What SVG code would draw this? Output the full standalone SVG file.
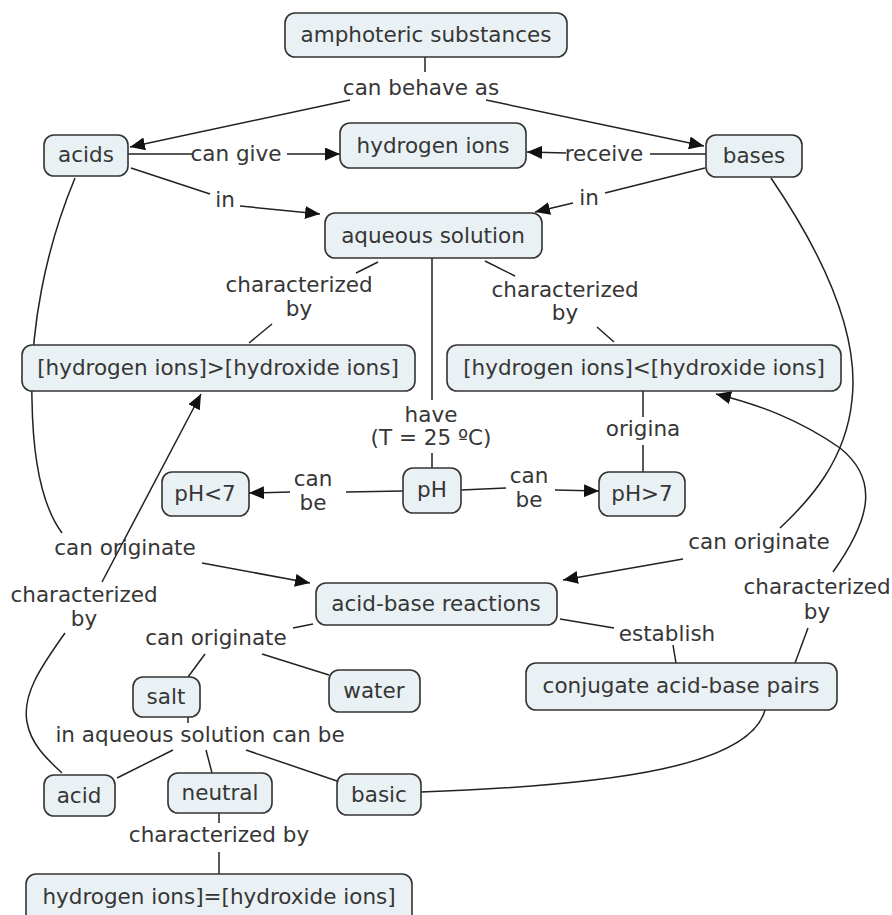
<svg xmlns="http://www.w3.org/2000/svg" width="892" height="915" viewBox="0 0 892 915">
<defs>
<style>
.n rect{fill:#e9f1f4;stroke:#333;stroke-width:1.6}
text{font-family:"DejaVu Sans",Verdana,sans-serif;font-size:21.5px;fill:#363636;text-anchor:middle}
.c path,.c line{fill:none;stroke:#222;stroke-width:1.5}
</style>
<marker id="arr" viewBox="0 0 15 13" refX="15" refY="6.5" markerWidth="15" markerHeight="13" orient="auto" markerUnits="userSpaceOnUse"><path d="M0,0 L15,6.5 L0,13 z" fill="#111"/></marker>
</defs>
<rect width="892" height="915" fill="#fff"/>
<g class="c" id="connectors">
<line x1="425" y1="57" x2="425" y2="72"/>
<line x1="350" y1="100" x2="130" y2="147" marker-end="url(#arr)"/>
<line x1="486" y1="100" x2="704" y2="146" marker-end="url(#arr)"/>
<line x1="128" y1="154" x2="192" y2="154"/>
<line x1="287" y1="154" x2="340" y2="154" marker-end="url(#arr)"/>
<line x1="706" y1="154" x2="650" y2="154"/>
<line x1="566" y1="153" x2="527" y2="152" marker-end="url(#arr)"/>
<line x1="131" y1="168" x2="210" y2="194"/>
<line x1="240" y1="206" x2="320" y2="214" marker-end="url(#arr)"/>
<line x1="705" y1="168" x2="605" y2="193"/>
<line x1="573" y1="203" x2="535" y2="212" marker-end="url(#arr)"/>
<line x1="378" y1="262" x2="356" y2="273"/>
<line x1="272" y1="324" x2="249" y2="343"/>
<line x1="485" y1="261" x2="515" y2="276"/>
<line x1="597" y1="327" x2="614" y2="342"/>
<line x1="432" y1="258" x2="432" y2="400"/>
<line x1="432" y1="453" x2="432" y2="468"/>
<line x1="403" y1="491" x2="346" y2="492"/>
<line x1="290" y1="492" x2="249" y2="493" marker-end="url(#arr)"/>
<line x1="461" y1="490" x2="506" y2="488"/>
<line x1="555" y1="490" x2="599" y2="491" marker-end="url(#arr)"/>
<line x1="643" y1="391" x2="643" y2="417"/>
<line x1="643" y1="445" x2="643" y2="472"/>
<path d="M75 178 C45 250 30 330 32 400 C33 470 45 510 62 533"/>
<path d="M771 178 C820 250 860 330 852 400 C846 460 810 500 780 528"/>
<line x1="683" y1="559" x2="563" y2="580" marker-end="url(#arr)"/>
<line x1="202" y1="563" x2="310" y2="583" marker-end="url(#arr)"/>
<line x1="102" y1="582" x2="201" y2="394" marker-end="url(#arr)"/>
<path d="M65 633 C40 668 22 695 27 722 C31 745 48 760 62 773"/>
<path d="M833 572 C870 520 880 480 840 448 C800 420 760 405 716 394" marker-end="url(#arr)"/>
<line x1="808" y1="628" x2="795" y2="663"/>
<line x1="560" y1="619" x2="614" y2="628"/>
<line x1="673" y1="645" x2="676" y2="663"/>
<line x1="313" y1="624" x2="293" y2="628"/>
<line x1="205" y1="654" x2="188" y2="677"/>
<line x1="262" y1="654" x2="329" y2="675"/>
<line x1="188" y1="717" x2="188" y2="723"/>
<line x1="173" y1="750" x2="117" y2="778"/>
<line x1="206" y1="750" x2="212" y2="773"/>
<line x1="246" y1="750" x2="337" y2="781"/>
<path d="M421 792 C620 785 750 765 765 710"/>
<line x1="219" y1="813" x2="219" y2="823"/>
<line x1="219" y1="852" x2="219" y2="874"/>
</g>
<g id="labels">
<text x="421" y="95">can behave as</text>
<text x="236" y="161">can give</text>
<text x="604" y="161">receive</text>
<text x="225" y="207">in</text>
<text x="589" y="205">in</text>
<text x="299" y="292">characterized</text>
<text x="299" y="316">by</text>
<text x="565" y="297">characterized</text>
<text x="565" y="320">by</text>
<text x="431" y="422">have</text>
<text x="431" y="445">(T = 25 ºC)</text>
<text x="313" y="486">can</text>
<text x="313" y="510">be</text>
<text x="529" y="483">can</text>
<text x="529" y="507">be</text>
<text x="643" y="436">origina</text>
<text x="125" y="555">can originate</text>
<text x="84" y="602">characterized</text>
<text x="84" y="626">by</text>
<text x="759" y="549">can originate</text>
<text x="817" y="594">characterized</text>
<text x="817" y="619">by</text>
<text x="667" y="641">establish</text>
<text x="216" y="645">can originate</text>
<text x="200" y="742">in aqueous solution can be</text>
<text x="219" y="842">characterized by</text>
</g>
<g class="n" id="amphoteric"><rect x="285" y="13" width="282" height="44" rx="10"/><text x="426" y="42">amphoteric substances</text></g>
<g class="n" id="acids"><rect x="44" y="135" width="84" height="41" rx="10"/><text x="86" y="162">acids</text></g>
<g class="n" id="hydrogen-ions"><rect x="340" y="123" width="186" height="45" rx="10"/><text x="433" y="153">hydrogen ions</text></g>
<g class="n" id="bases"><rect x="706" y="135" width="96" height="42" rx="10"/><text x="754" y="163">bases</text></g>
<g class="n" id="aqueous"><rect x="325" y="213" width="217" height="45" rx="10"/><text x="433" y="243">aqueous solution</text></g>
<g class="n" id="h-gt-oh"><rect x="22" y="345" width="393" height="46" rx="10"/><text x="218" y="375">[hydrogen ions]&gt;[hydroxide ions]</text></g>
<g class="n" id="h-lt-oh"><rect x="447" y="345" width="394" height="46" rx="10"/><text x="644" y="375">[hydrogen ions]&lt;[hydroxide ions]</text></g>
<g class="n" id="ph"><rect x="403" y="468" width="58" height="45" rx="10"/><text x="432" y="497">pH</text></g>
<g class="n" id="ph-lt7"><rect x="162" y="472" width="87" height="44" rx="10"/><text x="205" y="501">pH&lt;7</text></g>
<g class="n" id="ph-gt7"><rect x="599" y="472" width="86" height="44" rx="10"/><text x="642" y="501">pH&gt;7</text></g>
<g class="n" id="acid-base"><rect x="316" y="583" width="241" height="42" rx="10"/><text x="436" y="611">acid-base reactions</text></g>
<g class="n" id="conjugate"><rect x="526" y="663" width="311" height="47" rx="10"/><text x="681" y="693">conjugate acid-base pairs</text></g>
<g class="n" id="salt"><rect x="133" y="677" width="67" height="40" rx="10"/><text x="166" y="704">salt</text></g>
<g class="n" id="water"><rect x="329" y="670" width="91" height="42" rx="10"/><text x="374" y="698">water</text></g>
<g class="n" id="acid"><rect x="44" y="775" width="71" height="41" rx="10"/><text x="79" y="803">acid</text></g>
<g class="n" id="neutral"><rect x="168" y="773" width="104" height="40" rx="10"/><text x="220" y="800">neutral</text></g>
<g class="n" id="basic"><rect x="337" y="774" width="84" height="41" rx="10"/><text x="379" y="802">basic</text></g>
<g class="n" id="h-eq-oh"><rect x="26" y="874" width="386" height="52" rx="10"/><text x="219" y="904">hydrogen ions]=[hydroxide ions]</text></g>
</svg>
